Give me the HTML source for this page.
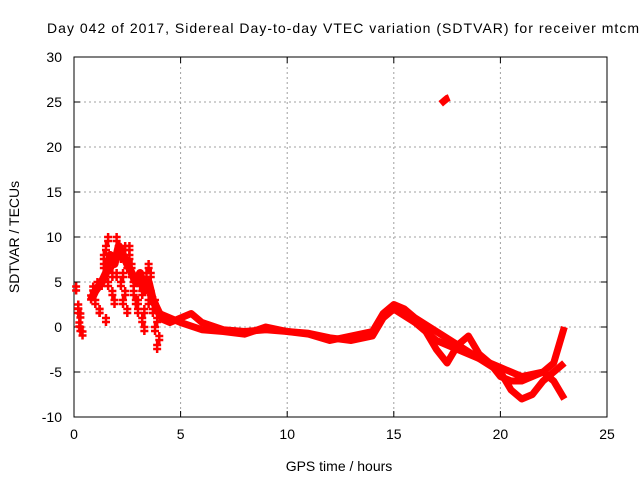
<!DOCTYPE html>
<html><head><meta charset="utf-8"><style>
body{margin:0;background:#fff;overflow:hidden}
svg{display:block;font-family:"Liberation Sans",sans-serif}
</style></head><body>
<svg id="c" width="640" height="480" viewBox="0 0 640 480">
<text x="47" y="33" font-size="14" text-anchor="start" textLength="592" lengthAdjust="spacing">Day 042 of 2017, Sidereal Day-to-day VTEC variation (SDTVAR) for receiver mtcm</text>
<g id="grid"></g>
<g id="axes"></g>
<g id="marks"></g>
<text x="339" y="471" font-size="14" text-anchor="middle">GPS time / hours</text>
<text transform="translate(19,237) rotate(-90)" font-size="14" text-anchor="middle">SDTVAR / TECUs</text>
</svg>
<script>
const xTicks=[0,5,10,15,20,25];
const yTicks=[-10,-5,0,5,10,15,20,25,30];
const trackAx=[4.0,4.5,5,5.5,6,7,8,9,10,11,12,13,14,14.5,15,15.5,16,17,18,19,20,20.5,21,21.5,22,22.5,23];
const trackAy=[1,0.5,1,1.5,0.5,-0.3,-0.5,-0.3,-0.5,-0.7,-1.2,-1.5,-1,1,2,1.5,0.5,-1.5,-2.5,-3.5,-5,-7,-8,-7.5,-6,-5,-4];
const trackBx=[4,5,6,7,8,9,10,11,12,13,14,14.5,15,15.5,16,17,18,19,20,21,22,22.5,23];
const trackBy=[1.5,0.5,-0.3,-0.5,-0.8,0,-0.5,-0.8,-1.5,-1,-0.5,1.5,2.5,2,1,-0.5,-2,-3.5,-4.5,-5.5,-5,-4,0];
const trackCx=[15,16,16.5,17,17.5,18,18.5,19,19.5,20,20.5,21,21.5,22,22.5,23];
const trackCy=[2,0.5,-0.5,-2.5,-4,-2,-1,-3,-4,-5.5,-6,-6,-5.5,-5,-6,-8];
const earlyX=[0.8,1.0,1.3,1.5,1.7,1.9,2.1,2.3,2.5,2.7,2.9,3.1,3.3,3.5,3.7,3.9,4.1];
const earlyY=[3,4,5,6,8,7,9,8,7,6,5,6,4,5,3,2,1];
const cloudX=[0.1,0.2,0.25,0.3,0.4,0.8,0.9,1.0,1.2,1.3,1.4,1.5,1.6,1.7,1.8,1.9,2.0,2.1,2.2,2.3,2.4,2.5,2.6,2.7,2.8,2.9,3.0,3.1,3.2,3.3,3.4,3.5,3.6,3.7,3.8,3.9,4.0,1.5,1.8,2.0,2.4,2.7,3.0,3.3,3.6,3.8,2.5,1.2,1.4,1.6,2.2,2.6,2.8,3.2,3.5,0.2,0.3,1.1,1.7,2.3,3.9];
const cloudY=[4.5,2.5,0.5,1.5,-0.5,3.5,4.5,3,2,5,7,9,10,8,6,3,10,9,8,6,4,7,8,6,5,3,2,5,4,2,6,7,4,2,0,-2,-1,1,4,6,9,7,3,0,6,3,2,2,8,5,5,9,4,1,3,2,0,5,7,3,1];
const outX=[17.2,17.3,17.4,17.5,17.6];
const outY=[24.8,25,25.2,25.4,25.5];
const L=74,R=607,T=57,B=417;
const sx=x=>L+(x-0)/(25-0)*(R-L);
const sy=y=>B-(y+10)/40*(B-T);
const NS="http://www.w3.org/2000/svg";
function mk(t,a,p){const e=document.createElementNS(NS,t);for(const k in a)e.setAttribute(k,a[k]);p.appendChild(e);return e;}
const g=document.getElementById('grid'),ax=document.getElementById('axes'),m=document.getElementById('marks');
xTicks.forEach(v=>{const x=sx(v);
 if(v>0&&v<25){const l=mk('line',{x1:x,y1:T,x2:x,y2:B,stroke:'#a0a0a0','stroke-dasharray':'2,3'},g);
 
 }
 mk('line',{x1:x,y1:B,x2:x,y2:B-6,stroke:'#000'},ax);mk('line',{x1:x,y1:T,x2:x,y2:T+6,stroke:'#000'},ax);
 const t=mk('text',{x:x,y:B+22,'font-size':14,'text-anchor':'middle'},ax);t.textContent=v;
 
 });
yTicks.forEach(v=>{const y=sy(v);
 if(v>-10&&v<30){const l=mk('line',{x1:L,y1:y,x2:R,y2:y,stroke:'#a0a0a0','stroke-dasharray':'2,3'},g);
 
 }
 mk('line',{x1:L,y1:y,x2:L+6,y2:y,stroke:'#000'},ax);mk('line',{x1:R,y1:y,x2:R-6,y2:y,stroke:'#000'},ax);
 const t=mk('text',{x:L-12,y:y+5,'font-size':14,'text-anchor':'end'},ax);t.textContent=v;
 
 });
mk('rect',{x:L,y:T,width:R-L,height:B-T,fill:'none',stroke:'#000'},ax);
function track(xs,ys,name,w){
 const p=mk('polyline',{points:xs.map((x,i)=>sx(x)+','+sy(ys[i])).join(' '),fill:'none',stroke:'#f00','stroke-width':w||7,'stroke-linejoin':'round'},m);
 
 
}
function pluses(xs,ys,name){
 xs.forEach((x,i)=>{const X=sx(x),Y=sy(ys[i]);
 const p=mk('path',{d:`M${X-4},${Y}H${X+4}M${X},${Y-4}V${Y+4}M${X-4},${Y+4}H${X+4}M${X},${Y}V${Y+8}`,stroke:'#f00','stroke-width':2.5},m);
 
 });
}
track(trackAx,trackAy,'track-a');
track(trackBx,trackBy,'track-b');
track(trackCx,trackCy,'track-c');
track(earlyX,earlyY,'early-track',8);
pluses(cloudX,cloudY,'early-point');
track(outX,outY,'outlier-track');
</script>
</body></html>
